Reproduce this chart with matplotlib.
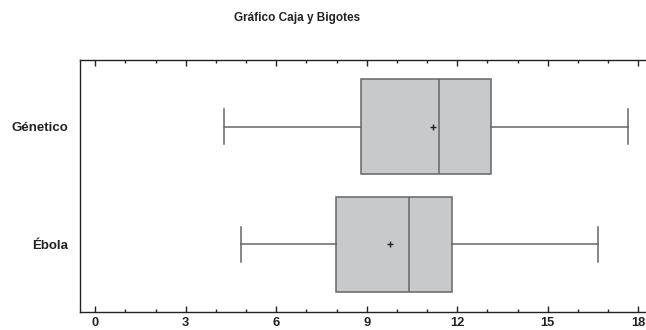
import matplotlib
matplotlib.use("Agg")
import matplotlib.pyplot as plt
from matplotlib.ticker import MultipleLocator

plt.rcParams['font.family'] = ['Liberation Sans', 'DejaVu Sans']

categories = ["Ébola", "Génetico"]
whislo = [4.84, 4.28]
q1 = [7.99, 8.82]
med = [10.41, 11.41]
q3 = [11.82, 13.11]
whishi = [16.68, 17.65]
mean = [9.77, 11.21]
xticks = [0, 3, 6, 9, 12, 15, 18]

stats = []
for i, c in enumerate(categories):
    stats.append(dict(label=c, whislo=whislo[i], q1=q1[i], med=med[i], q3=q3[i],
                      whishi=whishi[i], mean=mean[i], fliers=[]))

fig = plt.figure(figsize=(6.46, 3.30), dpi=100)
ax = fig.add_axes([79.5/646, 1 - 311.7/330, 1 - 79.5/646 + 0.002, (311.7 - 60)/330])

lc = '#666666'
ax.bxp(stats, positions=[0, 1], vert=False, widths=0.81, patch_artist=True,
       showmeans=True, showfliers=False,
       boxprops=dict(facecolor='#c8c9cb', edgecolor=lc, linewidth=1.1),
       medianprops=dict(color=lc, linewidth=1.1),
       whiskerprops=dict(color=lc, linewidth=1.1),
       capprops=dict(color=lc, linewidth=1.1),
       capwidths=0.3,
       meanprops=dict(marker='+', markeredgecolor='#222222', markersize=4.5, markeredgewidth=1.0))

ax.set_xlim(-0.52, 18.3)
ax.set_ylim(-0.573, 1.567)
ax.set_xticks(xticks)
ax.set_xticklabels([str(t) for t in xticks], fontweight='bold', fontsize=9.3, color='#222222')
ax.xaxis.set_minor_locator(MultipleLocator(1))
ax.tick_params(axis='x', which='major', direction='in', length=4, width=1, top=True, pad=4, color='#222222')
ax.tick_params(axis='x', which='minor', direction='in', length=2.5, width=1, top=True, color='#222222')
ax.set_yticks([0, 1])
ax.set_yticklabels(categories, fontweight='bold', fontsize=9.5, color='#222222')
ax.tick_params(axis='y', length=0, pad=8.3)
for s in ['left', 'top', 'bottom']:
    ax.spines[s].set_linewidth(1.0)
    ax.spines[s].set_color('#222222')
ax.spines['right'].set_visible(False)

fig.text(296.7/646, 1 - 17.5/330, "Gráfico Caja y Bigotes", ha='center', va='center',
         fontweight='bold', fontsize=8.5, color='#222222')

fig.savefig("out.png", dpi=100)
